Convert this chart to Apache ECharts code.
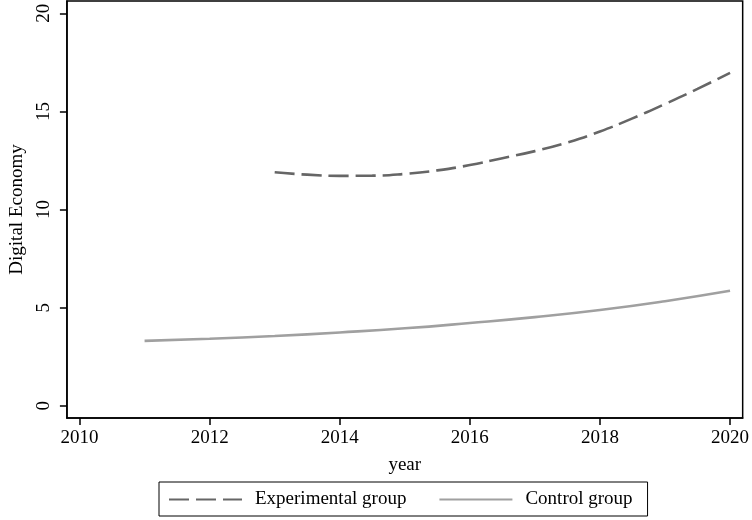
<!DOCTYPE html>
<html>
<head>
<meta charset="utf-8">
<script src="https://cdn.jsdelivr.net/npm/echarts@6/dist/echarts.min.js"></script>
<style>html,body{margin:0;padding:0;background:#fff}#c{width:752px;height:520px}</style>
</head>
<body>
<div id="c"></div>
<script>
// Data
const expYears = [2013, 2013.5, 2014, 2014.5, 2015, 2015.5, 2016, 2016.5, 2017, 2017.5, 2018, 2018.5, 2019, 2019.5, 2020];
const expValues = [11.90, 11.78, 11.72, 11.73, 11.82, 12.00, 12.27, 12.62, 12.98, 13.42, 13.98, 14.65, 15.38, 16.15, 16.97];
const ctrlYears = [2011, 2012, 2013, 2014, 2015, 2016, 2017, 2018, 2019, 2020];
const ctrlValues = [3.31, 3.42, 3.56, 3.74, 3.95, 4.22, 4.52, 4.88, 5.33, 5.86];
const xTicks = [2010, 2012, 2014, 2016, 2018, 2020];
const yTicks = [0, 5, 10, 15, 20];
const seriesNames = ['Experimental group', 'Control group'];

const font = 'Liberation Serif, Times New Roman, serif';
const chart = echarts.init(document.getElementById('c'));
chart.setOption({
  backgroundColor: '#fff',
  animation: false,
  textStyle: { fontFamily: font },
  grid: { left: 64, right: 9, top: 1, bottom: 102, show: true, borderColor: '#000', borderWidth: 1.5, containLabel: false },
  xAxis: {
    type: 'value', min: 2009.806, max: 2020.194,
    name: 'year', nameLocation: 'middle', nameGap: 38,
    nameTextStyle: { fontFamily: font, fontSize: 19, color: '#000' },
    axisLine: { show: true, onZero: false, lineStyle: { color: '#000', width: 1.5 } },
    axisTick: { show: true, length: 7, lineStyle: { color: '#000', width: 1.5 }, customValues: xTicks },
    axisLabel: { customValues: xTicks, formatter: v => String(v), fontFamily: font, fontSize: 19, color: '#000', margin: 11 },
    splitLine: { show: false }
  },
  yAxis: {
    type: 'value', min: -0.62, max: 20.63,
    name: 'Digital Economy', nameLocation: 'middle', nameGap: 38, nameRotate: 90,
    nameTextStyle: { fontFamily: font, fontSize: 19, color: '#000' },
    axisLine: { show: true, onZero: false, lineStyle: { color: '#000', width: 1.5 } },
    axisTick: { show: true, length: 7, lineStyle: { color: '#000', width: 1.5 }, customValues: yTicks },
    axisLabel: { customValues: yTicks, rotate: 90, formatter: v => String(v), fontFamily: font, fontSize: 19, color: '#000', margin: 13 },
    splitLine: { show: false }
  },
  legend: {
    left: 159, top: 482,
    data: seriesNames,
    itemWidth: 73, itemHeight: 12, itemGap: 32,
    padding: [8, 15, 7, 9],
    borderColor: '#000', borderWidth: 1,
    itemStyle: { opacity: 0, borderWidth: 0 },
    textStyle: { fontFamily: font, fontSize: 19, color: '#000', padding: [0, 0, 0, 8] }
  },
  series: [
    {
      name: seriesNames[0], type: 'line', smooth: true, symbol: 'none',
      data: expYears.map((y, i) => [y, expValues[i]]),
      lineStyle: { color: '#666666', width: 2.6, type: [20, 7] },
      itemStyle: { color: '#666666' }
    },
    {
      name: seriesNames[1], type: 'line', smooth: true, symbol: 'none',
      data: ctrlYears.map((y, i) => [y, ctrlValues[i]]),
      lineStyle: { color: '#a0a0a0', width: 2.6 },
      itemStyle: { color: '#a0a0a0' }
    }
  ]
});
</script>
</body>
</html>
